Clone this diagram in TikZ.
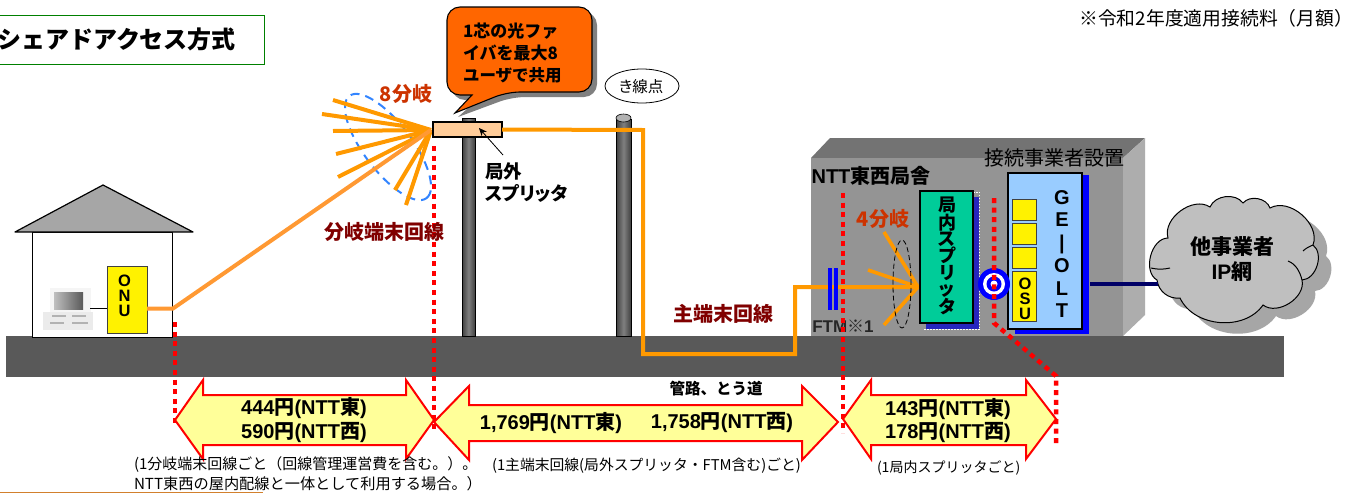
\documentclass[tikz,border=0pt]{standalone}
\usepackage{fontspec}
\usetikzlibrary{arrows.meta}
\setmainfont{Liberation Sans}
\newfontfamily\jpf{Noto Sans CJK JP}[RawFeature={+palt}]
\newfontfamily\jff{Noto Sans CJK JP}
\newcommand{\J}[1]{{\jff #1}}
\newcommand{\fs}[2]{\fontsize{#1}{#2}\selectfont}
\definecolor{ground}{HTML}{595959}
\definecolor{fiberA}{HTML}{FF9900}
\definecolor{fiberB}{HTML}{FF9933}
\definecolor{branchred}{HTML}{CC3300}
\definecolor{linered}{HTML}{800000}
\definecolor{paleyellow}{HTML}{FFFF99}
\definecolor{ispgreen}{HTML}{00CC99}
\definecolor{oltblue}{HTML}{99CCFF}
\definecolor{callorange}{HTML}{FF6600}
\definecolor{splitfill}{HTML}{FFCC99}
\tikzset{
  lab/.style={inner sep=0pt,outer sep=0pt,text=black},
  jb/.style={lab,font=\jpf\bfseries\fs{#1}{#1}},
  jfb/.style={lab,font=\jff\bfseries\fs{#1}{#1}},
  jr/.style={lab,font=\jpf\fs{#1}{#1}},
  jfr/.style={lab,font=\jff\fs{#1}{#1}},
  stack/.style={lab,align=center,font=\bfseries\fs{16.5}{#1}},
  fiber/.style={draw=fiberA,line width=4pt,line join=miter},
  redcut/.style={draw=red,line width=4.5pt,dash pattern=on 5pt off 4.6pt},
  price/.style={lab,font=\bfseries\fs{20}{20}},
  note/.style={lab,anchor=west,font=\jff\fs{#1}{#1}},
  yellowbox/.style={lab,draw=black!75,line width=1pt,fill=yellow},
  blockarrow/.style={draw=red,line width=2pt,fill=paleyellow,line join=miter},
  pole/.style={draw=black,line width=.6pt,left color=black!75,right color=black!75,middle color=black!50},
}
\newcommand{\dblarrow}[9]{%
  \path[blockarrow] (#1,#5) -- (#2,#6) -- (#2,#8) -- (#3,#8) -- (#3,#6) -- (#4,#5) -- (#3,#7) -- (#3,#9) -- (#2,#9) -- (#2,#7) -- cycle;}
\newcommand{\cloudpath}{(1157,280) to[bend left=75] (1168,238) to[bend left=70] (1210,207) to[bend left=60] (1243,203) to[bend left=60] (1270,208) to[bend left=70] (1313,245) to[bend left=70] (1302,280) to[bend left=70] (1263,305) to[bend left=60] (1180,298) to[bend left=45] (1157,280) -- cycle}
\begin{document}
\begin{tikzpicture}[x=1pt,y=-1pt]
\useasboundingbox (0,0) rectangle (1355,493);
\fill[white] (0,0) rectangle (1355,493);

% title
\node[lab,draw=green!50!black,line width=1pt,minimum width=267pt,minimum height=49pt,anchor=north west] (titlebox) at (-3,15) {};
\node[jfb=24,anchor=east] (title) at (236,39) {シェアドアクセス方式};
\node[jfr=18.8,anchor=east] (fee) at (1353,18) {※令和2年度適用接続料（月額）};
\draw[draw=brown!70!orange,line width=1pt] (0,492.5) -- (263,492.5);

% building
\fill[black!55] (811,158) -- (830,138) -- (1145,138) -- (1123,158) -- cycle;
\fill[black!32] (1123,158) -- (1145,138) -- (1145,315) -- (1123,336) -- cycle;
\fill[black!42] (811,158) rectangle (1123,336);

% ground
\fill[ground] (6,336) rectangle (1284,377);

% house
\draw[line width=1pt,fill=white] (32,232) rectangle (172,337);
\draw[line width=1.2pt,fill=black!35,line join=round] (15,232) -- (103,185) -- (193,232) -- cycle;
\fill[black!8] (43,312) rectangle (93,330);
\fill[black!4] (50,288) rectangle (91,312);
\shade[left color=black!25,right color=black!65] (54,292) rectangle (83,309);
\draw[black!30,line width=1.2pt] (52,316) -- (66,316) (72,316) -- (86,316) (50,323) -- (64,323) (72,323) -- (88,323);
\coordinate (pc) at (90,308);
\node[yellowbox,minimum width=40pt,minimum height=67pt] (onu) at (127,299.5) {};
\node[stack=15] (onutext) at (124.5,296) {O\\N\\U};
\draw[line width=.8pt] (pc) -- (pc -| onu.west);
\coordinate (onuport) at (147,308.5);
\coordinate (housecorner) at (173,308.5);

% poles
\path[pole] (462,118) rectangle (475,336);
\path[pole] (616,119) rectangle (631,336);
\draw[line width=.6pt,fill=black!30] (623.5,118) ellipse [x radius=7.5pt,y radius=4pt];

% red cut lines (first)
\draw[redcut] (175,322) -- (175,427);
\draw[redcut] (434,146) -- (434,430);

% blue dashed ellipse
\draw[draw=blue!60!cyan!80,line width=2pt,dash pattern=on 9pt off 6pt,rotate around={-53:(388,147)}] (388,147) ellipse [x radius=64pt,y radius=24pt];

% fan of branches
\coordinate (fan) at (431,130);
\foreach \ex/\ey in {333/100,322/114,333/131,336/154,338/177,395/190,406/205}
  \draw[fiber] (fan) -- (\ex,\ey);
\draw[draw=fiberB,line width=4pt,line join=miter] (onuport) -- (housecorner) -- (fan);

% main fibre
\node[lab,draw=black,line width=2.4pt,fill=splitfill,minimum width=69pt,minimum height=15pt] (split) at (467.5,129.5) {};
\coordinate (c1) at (643,130);
\coordinate (c2) at (643,354);
\coordinate (c3) at (795,354);
\coordinate (c4) at (795,287);
\coordinate (isp) at (918,287);
\draw[fiber] (split.east) -- (c1) -- (c2) -- (c3) -- (c4) -- (isp);
\draw[fiber,line width=3.6pt] (isp) -- (884,232);
\draw[fiber,line width=3.6pt] (isp) -- (868,270);
\draw[fiber,line width=3.6pt] (isp) -- (884,325);
\draw[black,line width=.8pt,dash pattern=on 5pt off 3pt] (902,284) ellipse [x radius=9pt,y radius=44pt];

% FTM
\draw[blue,line width=3.5pt] (830,268) -- (830,310) (836,268) -- (836,310);
\node[lab,font=\bfseries\fs{17}{17},text=black!85] (ftm) at (843,326) {FTM\J{※}1};

% splitter arrow and label
\draw[line width=.8pt,-{Stealth[length=8pt,width=7pt]}] (503,155) -- (479,128);
\node[jb=18.5,anchor=west] (sp1) at (485,171) {局外};
\node[jb=18.5,anchor=west] (sp2) at (485,193) {スプリッタ};

% callout
\fill[black!50,rounded corners=13pt] (477,100) -- (452,100) -- (452,12) -- (597,12) -- (597,97) -- (512,97) [sharp corners] -- (458,117) -- cycle;
\draw[line width=1.1pt,fill=callorange,rounded corners=13pt] (472,95) -- (447,95) -- (447,7) -- (592,7) -- (592,92) -- (507,92) [sharp corners] -- (455,113) -- cycle;
\node[jfb=17,anchor=west] (co1) at (463,31) {1芯の光ファ};
\node[jfb=17,anchor=west] (co2) at (463,53) {イバを最大8};
\node[jfb=16.5,anchor=west] (co3) at (463,75) {ユーザで共用};

% kisen
\draw[line width=.8pt,fill=white] (642,86) ellipse [x radius=37pt,y radius=17pt];
\node[jr=15.5] (kisen) at (641,87) {き線点};

% branch labels
\node[jb=20,text=branchred] (b8) at (406,94) {8分岐};
\node[jb=20,text=branchred] (b4) at (883,219) {4分岐};
\node[jb=20,text=linered] (brline) at (384,232) {分岐端末回線};
\node[jb=20,text=linered] (mainline) at (723,314) {主端末回線};

% building labels
\node[jfr=20] (setsu) at (1054,158) {接続事業者設置};
\node[lab,font=\bfseries\fs{20}{20}] (nttb) at (871,176) {NTT\J{東西局舎}};

% indoor splitter
\fill[blue!70!black!85] (926,197) rectangle (979,329);
\draw[white,line width=.8pt,dash pattern=on 1.5pt off 1.5pt] (973,192) -- (979.5,192) -- (979.5,329.5) -- (923,329.5);
\node[lab,draw=black,line width=1.2pt,fill=ispgreen,minimum width=53pt,minimum height=132pt,anchor=north west] (inbox) at (920,191) {};
\node[lab,align=center,font=\jpf\bfseries\fs{18}{16.6}] (intext) at (947,256) {局\\内\\ス\\プ\\リ\\ッ\\タ};

% OLT
\fill[blue] (1015,175) rectangle (1089,334);
\node[lab,draw=black,line width=1.1pt,fill=oltblue,minimum width=74pt,minimum height=156pt,anchor=north west] (olt) at (1008,173) {};
\node[yellowbox,minimum width=24pt,minimum height=21pt] (o1) at (1024,209.5) {};
\node[yellowbox,minimum width=24pt,minimum height=21pt] (o2) at (1024,233.5) {};
\node[yellowbox,minimum width=24pt,minimum height=21pt] (o3) at (1024,257.5) {};
\node[yellowbox,minimum width=24pt,minimum height=50pt] (o4) at (1024,296) {};
\node[stack=15] (osu) at (1025,298.5) {O\\S\\U};
\node[lab,align=center,font=\bfseries\fs{20}{22.7}] (olttext) at (1062,254) {G\\E\\|\\O\\L\\T};

% connector target
\fill[blue] (994,284) circle (16pt);
\fill[white] (994,284) circle (11pt);
\fill[blue] (994,284) circle (7.5pt);
\fill[white] (994,284) circle (3.5pt);

% right red line
\coordinate (r1) at (994,198);
\coordinate (r2) at (994,323);
\coordinate (r3) at (1056,376);
\coordinate (r4) at (1056,447);
\draw[redcut] (r1) -- (r2) -- (r3) -- (r4);
\draw[redcut] (843,193) -- (843,433);

% cloud
\coordinate (ipline) at (1090,284);
\fill[black!35,shift={(13,11)}] \cloudpath;
\draw[line width=1pt,fill=black!25] \cloudpath;
\draw[line width=1pt] (1151,268) .. controls (1160,270) and (1165,269) .. (1170,268);
\draw[line width=1pt] (1288,261) .. controls (1296,264) and (1300,272) .. (1302,280);
\draw[line width=1pt] (1313,245) .. controls (1308,247) and (1305,249) .. (1303,251);
\draw[draw=blue!40!black,line width=4pt] (ipline) -- (1158,284);
\node[jb=21] (other) at (1232,247) {他事業者};
\node[lab,font=\bfseries\fs{21}{20}] (ipn) at (1232,272) {IP\J{網}};

% block arrows
\dblarrow{175}{203}{406}{434}{420}{380}{459}{395}{445}
\dblarrow{434}{469}{802}{838}{422}{386}{460}{405}{441}
\dblarrow{843}{871}{1026}{1056}{419}{380}{459}{395}{445}

\node[price] (p1) at (304,408) {444\J{円}(NTT\J{東})};
\node[price] (p2) at (304,433) {590\J{円}(NTT\J{西})};
\node[price] (p3) at (551,423) {1,769\J{円}(NTT\J{東})};
\node[price] (p4) at (722,423) {1,758\J{円}(NTT\J{西})};
\node[price] (p5) at (948,409) {143\J{円}(NTT\J{東})};
\node[price] (p6) at (948,433) {178\J{円}(NTT\J{西})};
\node[jfb=15.5] (kanro) at (716,389) {管路、とう道};

% notes
\node[note=15] (n1) at (134,465) {(1分岐端末回線ごと（回線管理運営費を含む。）。};
\node[note=15.2] (n2) at (134,484) {NTT東西の屋内配線と一体として利用する場合。）};
\node[note=14.8] (n3) at (492,466) {(1主端末回線(局外スプリッタ・FTM含む)ごと)};
\node[note=14] (n4) at (877,468) {(1局内スプリッタごと)};
\end{tikzpicture}
\end{document}
